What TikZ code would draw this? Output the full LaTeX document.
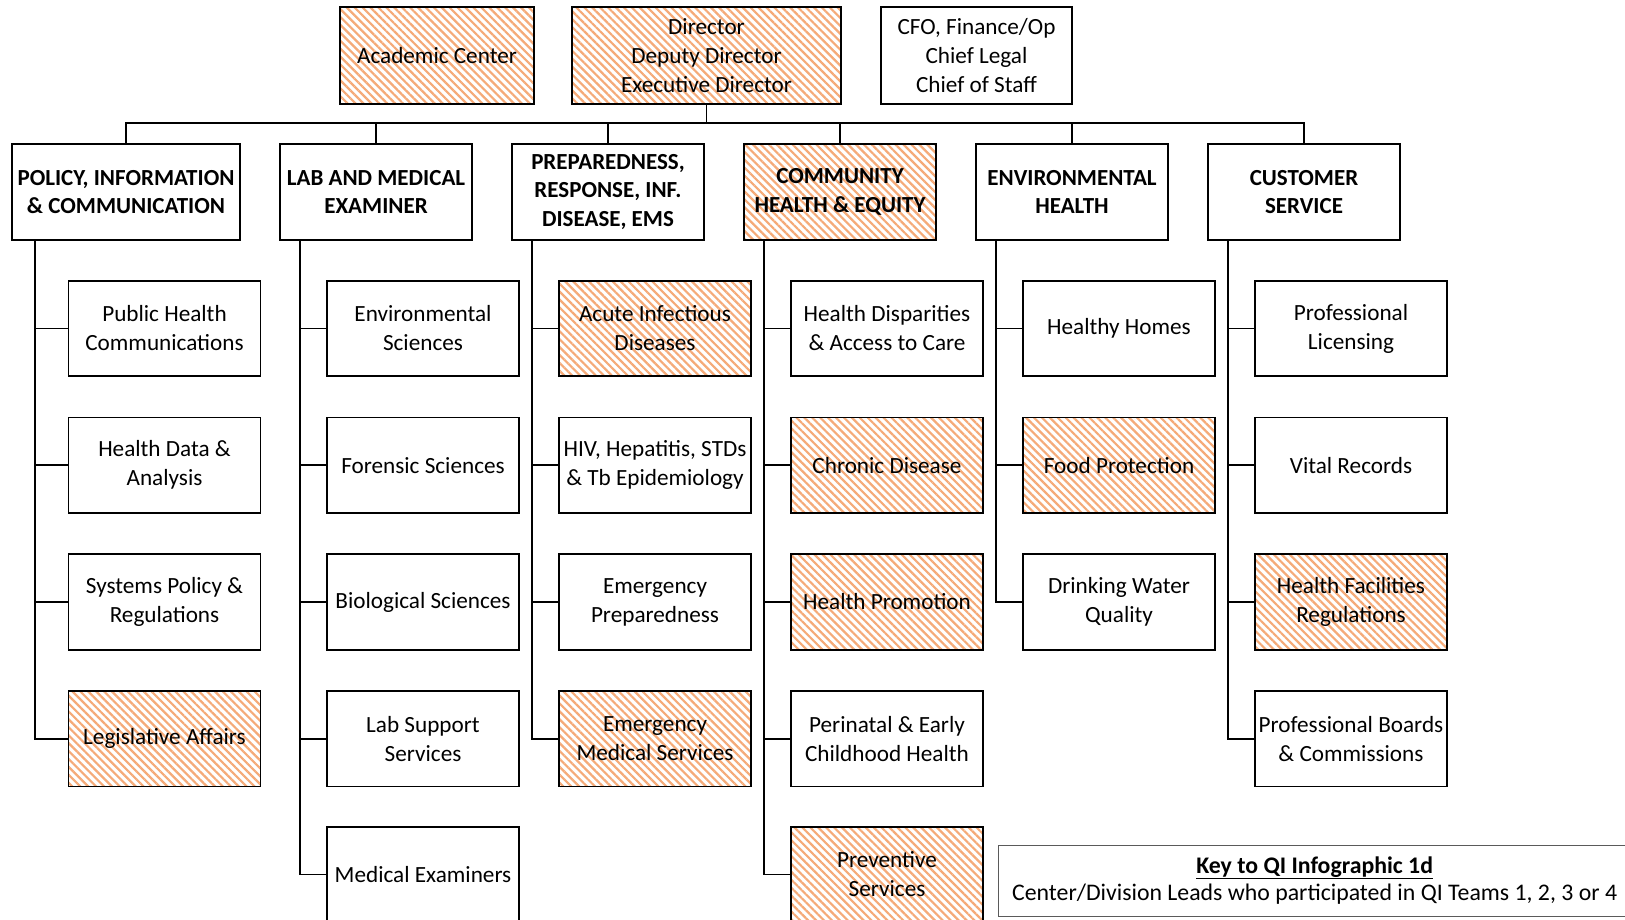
\documentclass[tikz,border=0pt]{standalone}
\usepackage{fontspec}
\setmainfont{Carlito}
\usetikzlibrary{patterns.meta}
\definecolor{hatch}{RGB}{245,170,120}
\definecolor{keyline}{RGB}{90,90,90}
\tikzset{
  box/.style={draw=black, line width=1.8pt, fill=white, inner sep=0pt, align=center,
    font=\fontsize{23.2}{29}\selectfont},
  small/.style={box, minimum width=192pt, minimum height=95.5pt},
  head/.style={box, minimum height=96pt, font=\fontsize{23}{28.6}\selectfont\bfseries},
  top/.style={box, minimum height=97pt},
  qi/.style={pattern={Lines[angle=-45,distance=5.6pt,line width=2.2pt]}, pattern color=hatch},
  link/.style={draw=black, line width=1.8pt},
}
\begin{document}
\begin{tikzpicture}[x=1pt,y=-1pt]
\useasboundingbox (0,0) rectangle (1625,920);
\clip (0,0) rectangle (1625,920);
\fill[white] (0,0) rectangle (1625,920);

% executive row
\node[top, minimum width=194pt, qi] (ac)  at (437,55.5)  {Academic Center};
\node[top, minimum width=269pt, qi] (dir) at (706.5,55.5) {Director\\Deputy Director\\Executive Director};
\node[top, minimum width=191pt]     (cfo) at (976.5,55.5) {CFO, Finance/Op\\Chief Legal\\Chief of Staff};

% division heads
\node[head, minimum width=228pt]     (pic)  at (126,192)  {POLICY, INFORMATION\\\& COMMUNICATION};
\node[head, minimum width=192pt]     (lab)  at (376,192)  {LAB AND MEDICAL\\EXAMINER};
\node[head, minimum width=192pt]     (prep) at (608,192)  {PREPAREDNESS,\\RESPONSE, INF.\\DISEASE, EMS};
\node[head, minimum width=192pt, qi] (che)  at (840,192)  {COMMUNITY\\HEALTH \& EQUITY};
\node[head, minimum width=192pt]     (env)  at (1072,192) {ENVIRONMENTAL\\HEALTH};
\node[head, minimum width=192pt]     (cs)   at (1304,192) {CUSTOMER\\SERVICE};

% bus joining the heads to the director
\coordinate (bus) at (0,123);
\draw[link] (pic.north) -- (pic.north |- bus) -- (cs.north |- bus) -- (cs.north);
\foreach \h in {lab,prep,che,env} \draw[link] (\h.north) -- (\h.north |- bus);
\draw[link] (dir.south) -- (dir.south |- bus);

% spine positions
\coordinate (s1) at (35,0);
\coordinate (s2) at (300,0);
\coordinate (s3) at (532,0);
\coordinate (s4) at (764,0);
\coordinate (s5) at (996,0);
\coordinate (s6) at (1228,0);

% policy, information & communication
\node[small]     (p1) at (164.5,328.5) {Public Health\\Communications};
\node[small]     (p2) at (164.5,465.3) {Health Data \&\\Analysis};
\node[small]     (p3) at (164.5,602)   {Systems Policy \&\\Regulations};
\node[small, qi] (p4) at (164.5,738.8) {Legislative Affairs};

% lab and medical examiner
\node[small] (l1) at (423,328.5) {Environmental\\Sciences};
\node[small] (l2) at (423,465.3) {Forensic Sciences};
\node[small] (l3) at (423,602)   {Biological Sciences};
\node[small] (l4) at (423,738.8) {Lab Support\\Services};
\node[small] (l5) at (423,874.5) {Medical Examiners};

% preparedness, response, infectious disease, EMS
\node[small, qi] (r1) at (655,328.5) {Acute Infectious\\Diseases};
\node[small]     (r2) at (655,465.3) {HIV, Hepatitis, STDs\\\& Tb Epidemiology};
\node[small]     (r3) at (655,602)   {Emergency\\Preparedness};
\node[small, qi] (r4) at (655,738.8) {Emergency\\Medical Services};

% community health & equity
\node[small]     (c1) at (887,328.5) {Health Disparities\\\& Access to Care};
\node[small, qi] (c2) at (887,465.3) {Chronic Disease};
\node[small, qi] (c3) at (887,602)   {Health Promotion};
\node[small]     (c4) at (887,738.8) {Perinatal \& Early\\Childhood Health};
\node[small, qi] (c5) at (887,874.5) {Preventive\\Services};

% environmental health
\node[small]     (e1) at (1119,328.5) {Healthy Homes};
\node[small, qi] (e2) at (1119,465.3) {Food Protection};
\node[small]     (e3) at (1119,602)   {Drinking Water\\Quality};

% customer service
\node[small]     (u1) at (1351,328.5) {Professional\\Licensing};
\node[small]     (u2) at (1351,465.3) {Vital Records};
\node[small, qi] (u3) at (1351,602)   {Health Facilities\\Regulations};
\node[small]     (u4) at (1351,738.8) {Professional Boards\\\& Commissions};

% spines and branches
\foreach \c in {p1,p2,p3,p4} \draw[link] (pic.south -| s1) |- (\c.west);
\foreach \c in {l1,l2,l3,l4,l5} \draw[link] (lab.south -| s2) |- (\c.west);
\foreach \c in {r1,r2,r3,r4} \draw[link] (prep.south -| s3) |- (\c.west);
\foreach \c in {c1,c2,c3,c4,c5} \draw[link] (che.south -| s4) |- (\c.west);
\foreach \c in {e1,e2,e3} \draw[link] (env.south -| s5) |- (\c.west);
\foreach \c in {u1,u2,u3,u4} \draw[link] (cs.south -| s6) |- (\c.west);

% key
\node[draw=keyline, line width=1.3pt, fill=white, inner sep=0pt, minimum width=640pt, minimum height=71pt,
      anchor=north west, align=center, font=\fontsize{23.8}{28}\selectfont] (key) at (998,845)
  {\hspace*{-4pt}\begin{tabular}{@{}c@{}}{\bfseries\underline{Key to QI Infographic 1d}}\\[-1pt]
   Center/Division Leads who participated in QI Teams 1, 2, 3 or 4\end{tabular}\hspace*{4pt}};
\end{tikzpicture}
\end{document}
